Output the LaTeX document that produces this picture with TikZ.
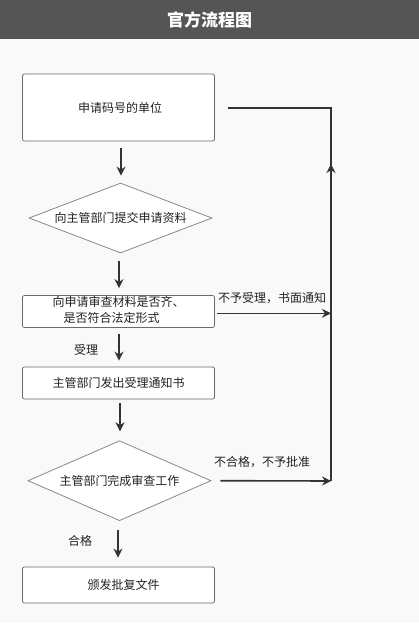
\documentclass[tikz,border=0pt]{standalone}
\usepackage{fontspec}
\setmainfont{Noto Sans CJK SC}
\usetikzlibrary{shapes.geometric,arrows.meta,calc}
\definecolor{hdr}{HTML}{555555}
\definecolor{bg}{HTML}{F9F9F9}
\definecolor{boxc}{HTML}{6A6A6A}
\definecolor{diac}{HTML}{888888}
\definecolor{linec}{HTML}{333333}
\definecolor{txt}{HTML}{222222}
\newcommand{\fs}{\fontsize{12pt}{16pt}\selectfont}
\begin{document}
\begin{tikzpicture}[x=1pt,y=-1pt,
  box/.style={draw=boxc, fill=white, rounded corners=2pt, line width=0.8pt, minimum width=192pt, inner sep=0pt, font=\fs, text=txt, align=center},
  dia/.style={draw=diac, fill=white, shape=diamond, aspect=2.6, inner sep=0pt, minimum width=183pt, line width=0.8pt, font=\fs, text=txt},
  arr/.style={draw=linec, line width=1.6pt, -{Stealth[length=9pt,width=9pt]}},
  conn/.style={draw=linec, line width=1.6pt},
  lbl/.style={font=\fs, text=txt, inner sep=0pt},
]
\useasboundingbox (0,0) rectangle (419,627);
\fill[white] (0,0) rectangle (419,627);
\fill[bg] (0,39) rectangle (419,623);
\fill[hdr] (0,0) rectangle (419,39);
\node[text=white, font=\fontsize{17pt}{20pt}\selectfont\bfseries] (title) at (209.5,19.5) {官方流程图};

\node[box, minimum height=67pt] (b1) at (118.5,107.5) {\hspace*{3pt}申请码号的单位};
\node[dia, minimum height=70pt] (d1) at (120.5,218) {向主管部门提交申请资料};
\node[box, minimum height=31pt] (b3) at (118.5,311.5) {\raisebox{-3.5pt}{\begin{tabular}{@{}c@{}}向申请审查材料是否齐、\\[0pt]是否符合法定形式\hspace*{14pt}\end{tabular}}};
\node[box, minimum height=32pt] (b4) at (118.5,383) {主管部门发出受理通知书};
\node[dia, minimum height=80pt] (d2) at (119.5,480.7) {主管部门完成审查工作};
\node[box, minimum height=36pt] (b5) at (118.5,585) {\hspace*{10pt}颁发批复文件};

% vertical arrows
\draw[arr, shorten <=7pt, shorten >=7pt] ([xshift=2.5pt]b1.south) -- ([xshift=2.5pt]b1.south |- d1.north);
\draw[arr, shorten <=8pt, shorten >=7pt] ([xshift=-1.5pt]d1.south) -- ([xshift=-1.5pt]d1.south |- b3.north);
\draw[arr, shorten <=6pt, shorten >=6pt] ([xshift=0.5pt]b3.south) -- ([xshift=0.5pt]b3.south |- b4.north);
\draw[arr, shorten <=4pt, shorten >=9pt] ([xshift=1.5pt]b4.south) -- ([xshift=1.5pt]b4.south |- d2.north);
\draw[arr, shorten <=9pt, shorten >=9pt] ([xshift=-1.5pt]d2.south) -- ([xshift=-1.5pt]d2.south |- b5.north);

% right side
\coordinate (c1) at (331,108);
\coordinate (cu) at (331,164);
\coordinate (c2) at (331,481);
\coordinate (e3) at (331,313.3);
\draw[conn] ([xshift=13.5pt,yshift=-0.5pt]b1.east) -- (c1) -- (c2);
\draw[arr] (c2) -- (cu);
\draw[arr] ([xshift=2.5pt,yshift=-1.8pt]b3.east) -- (e3);
\draw[arr] ([xshift=9pt]d2.east) -- (c2);

% labels
\node[lbl] (l1) at (86,350) {受理};
\node[lbl] (l2) at (80,541) {合格};
\node[lbl] (l3) at (272,298) {不予受理，书面通知};
\node[lbl] (l4) at (262,462) {不合格，不予批准};
\end{tikzpicture}
\end{document}
